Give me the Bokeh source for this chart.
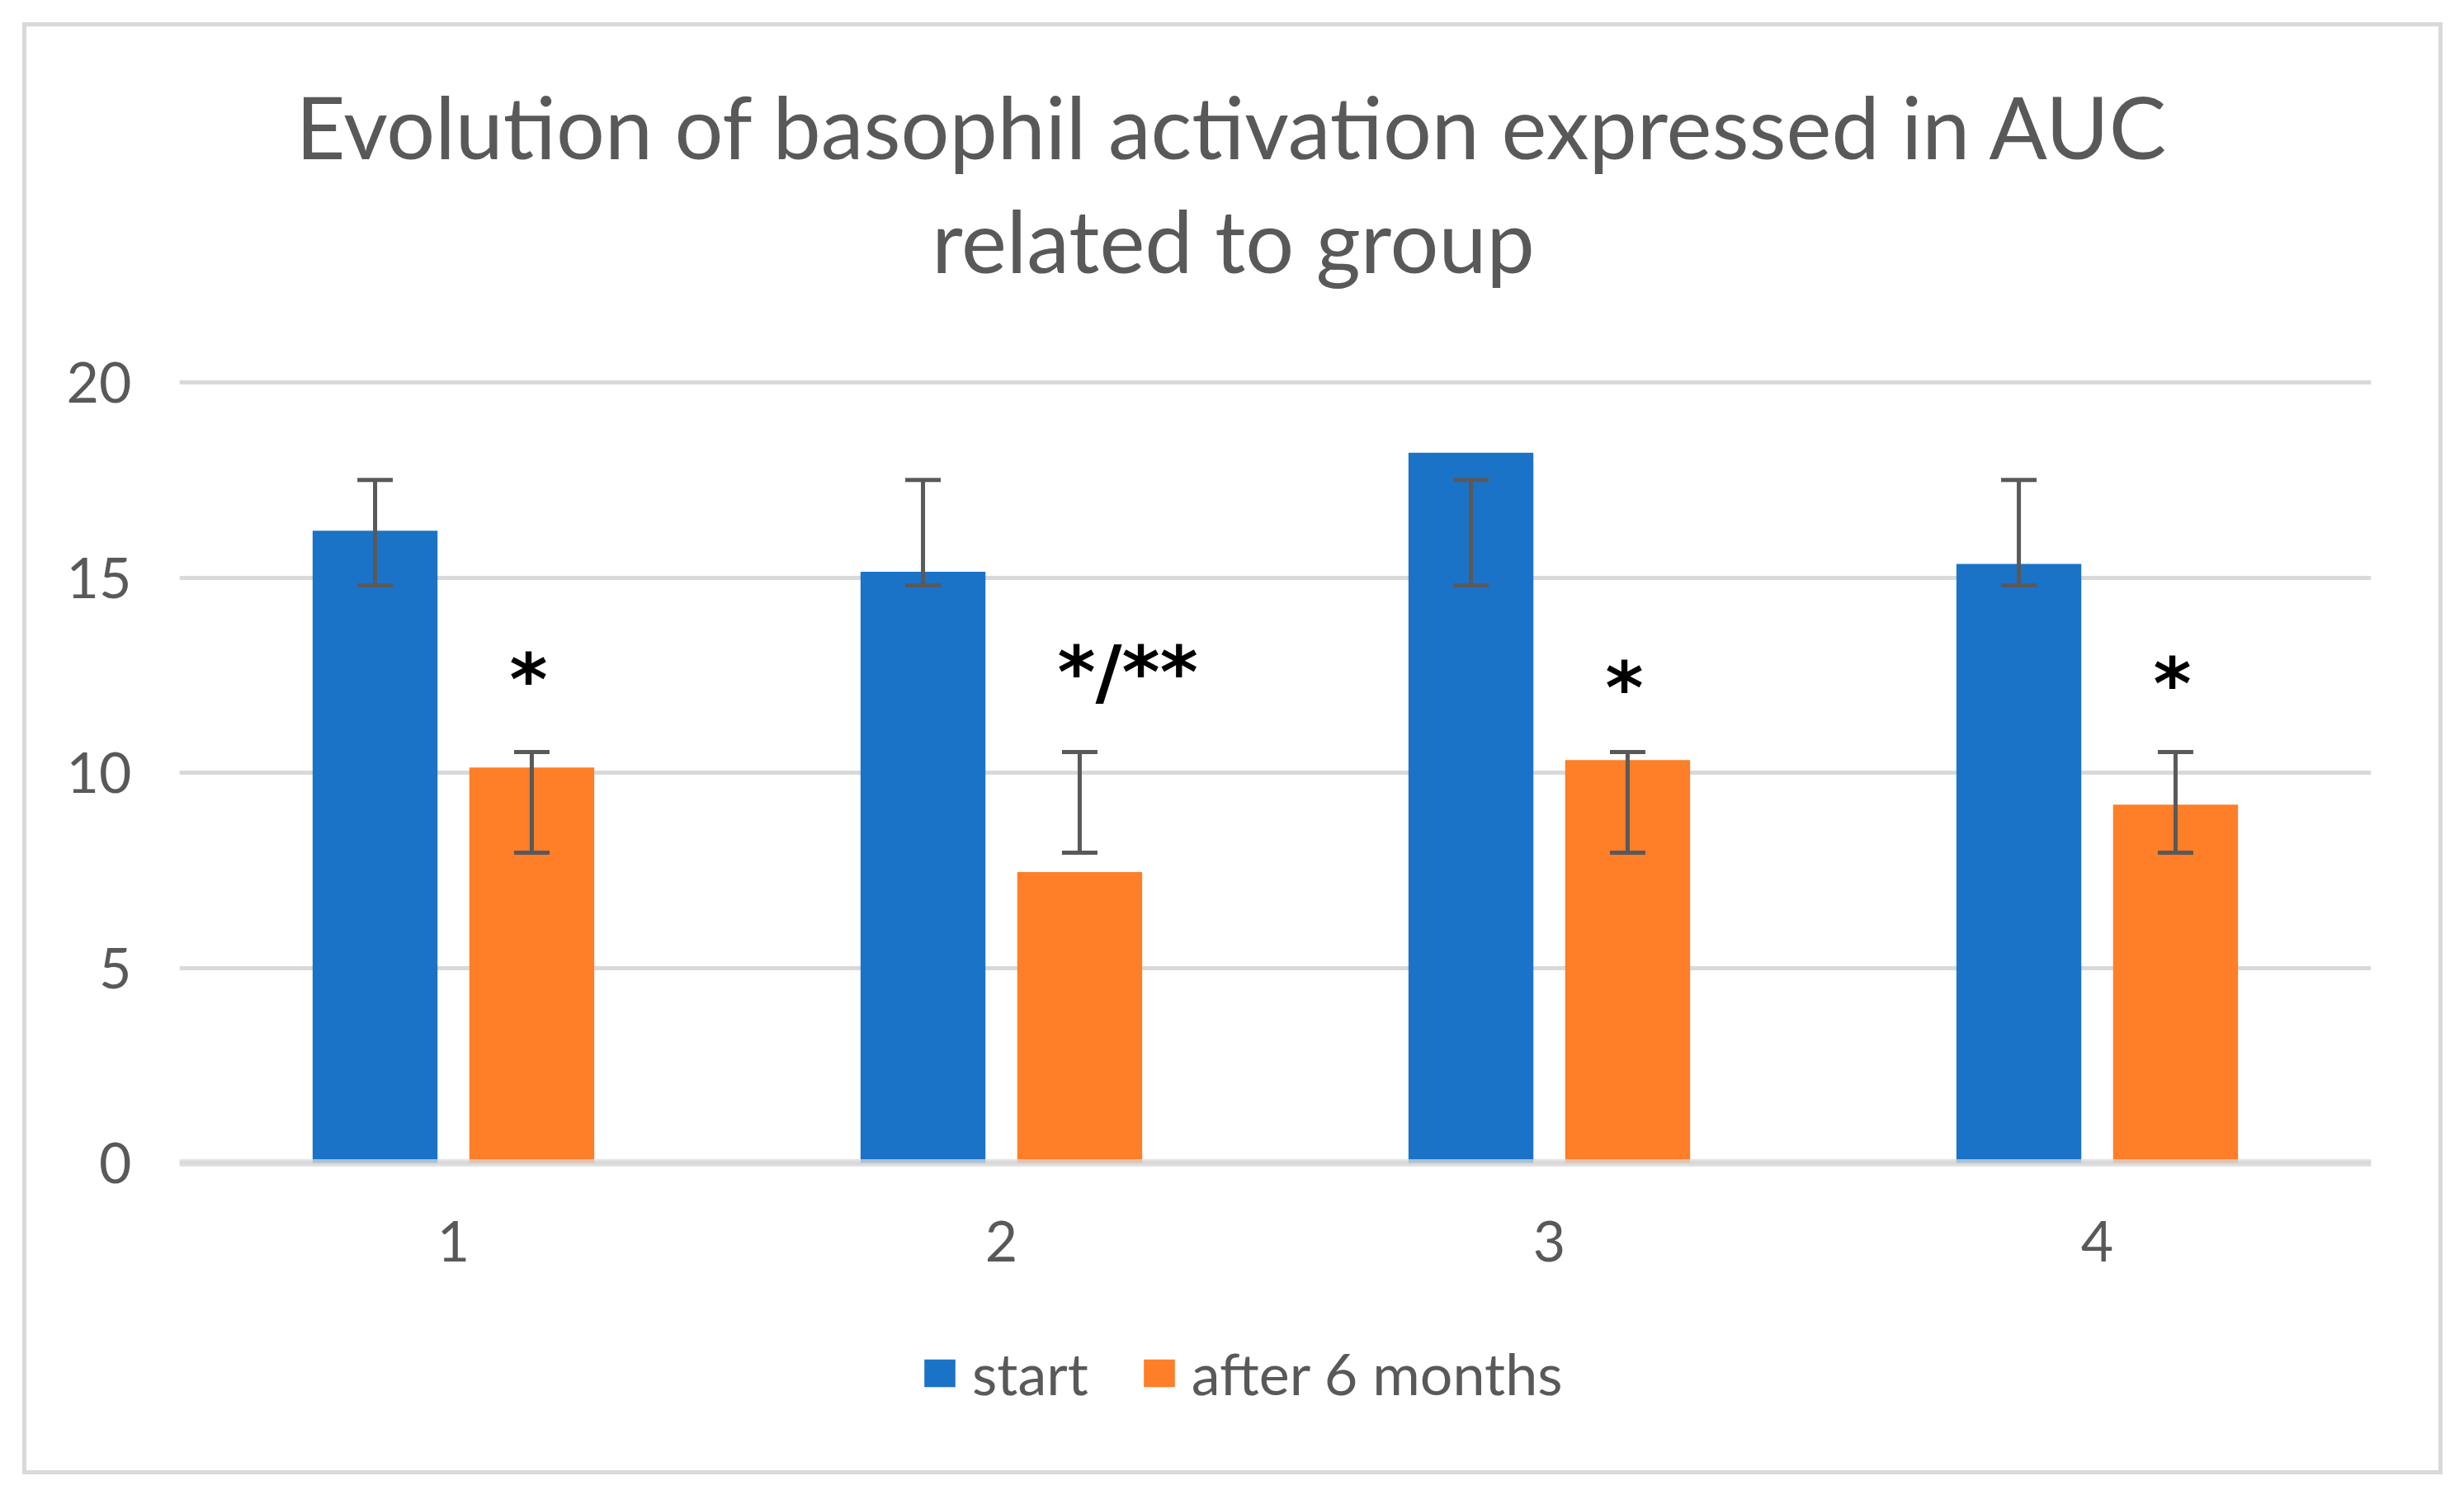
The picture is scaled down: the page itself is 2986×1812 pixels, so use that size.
from bokeh.plotting import figure
from bokeh.models import (ColumnDataSource, FactorRange, Range1d, Whisker, TeeHead,
                          Legend, LegendItem, FixedTicker, Label)
from bokeh.transform import dodge
from bokeh.core.properties import value
from bokeh.embed import file_html
from bokeh.resources import INLINE

# ---- data ----
groups = ["1", "2", "3", "4"]
start_vals = [16.2, 15.15, 18.2, 15.35]
after_vals = [10.13, 7.45, 10.32, 9.18]
start_err_lo = [14.8, 14.8, 14.8, 14.8]
start_err_hi = [17.5, 17.5, 17.5, 17.5]
after_err_lo = [7.95, 7.95, 7.95, 7.95]
after_err_hi = [10.53, 10.53, 10.53, 10.53]
sig_labels = ["*", "*/**", "*", "*"]
sig_y = [12.38, 12.58, 12.18, 12.28]
y_ticks = [0, 5, 10, 15, 20]
series_names = ["start", "after 6 months"]
title_lines = ["Evolution of basophil activation expressed in AUC", "related to group"]

BLUE = "#1b73c8"
ORANGE = "#ff7e28"
GREY_TXT = "#595959"
GRID = "#d9d9d9"
FONT = "Lato"

src = ColumnDataSource(dict(groups=groups, start=start_vals, after=after_vals,
                            s_lo=start_err_lo, s_hi=start_err_hi,
                            a_lo=after_err_lo, a_hi=after_err_hi,
                            sig=sig_labels, sig_y=sig_y))

W, H = 2970, 1796
# chart border drawn as CSS background behind a transparent canvas
bl, bt, br, bb, bw = 27, 27, 2960, 1787, 5
bg = ", ".join([
    f"linear-gradient({GRID},{GRID}) {bl}px {bt}px / {br-bl}px {bw}px no-repeat",
    f"linear-gradient({GRID},{GRID}) {bl}px {bb-bw}px / {br-bl}px {bw}px no-repeat",
    f"linear-gradient({GRID},{GRID}) {bl}px {bt}px / {bw}px {bb-bt}px no-repeat",
    f"linear-gradient({GRID},{GRID}) {br-bw}px {bt}px / {bw}px {bb-bt}px no-repeat",
    "white",
])

# frame spans almost the whole chart; value axis 0..20 occupies px 463..1409
FT, FB = 30, 1776
PX_PER_UNIT = (1409 - 463) / 20.0
y_lo = -(FB - 1409) / PX_PER_UNIT
y_hi = 20 + (463 - FT) / PX_PER_UNIT

p = figure(width=W, height=H, x_range=FactorRange(*groups, range_padding=0),
           y_range=Range1d(y_lo, y_hi), output_backend="svg", toolbar_location=None,
           title=None,
           min_border_left=217, min_border_right=97, min_border_top=FT,
           min_border_bottom=H - FB, styles={"background": bg})
p.outline_line_color = None
p.background_fill_alpha = 0
p.border_fill_alpha = 0

r1 = p.vbar(x=dodge("groups", -0.143, range=p.x_range), top="start", width=0.228,
            source=src, fill_color=BLUE, line_color=None)
r2 = p.vbar(x=dodge("groups", 0.143, range=p.x_range), top="after", width=0.228,
            source=src, fill_color=ORANGE, line_color=None)

for base_off, lo, hi in [(-0.143, "s_lo", "s_hi"), (0.143, "a_lo", "a_hi")]:
    w = Whisker(base=dodge("groups", base_off, range=p.x_range), lower=lo, upper=hi,
                source=src, line_color=GREY_TXT, line_width=5, level="overlay",
                upper_head=TeeHead(size=43, line_color=GREY_TXT, line_width=5),
                lower_head=TeeHead(size=43, line_color=GREY_TXT, line_width=5))
    p.add_layout(w)

p.text(x=dodge("groups", 0.143, range=p.x_range), y="sig_y", text="sig", source=src,
       text_align="left", x_offset=-27, text_baseline="alphabetic",
       text_font=value("DejaVu Sans"), text_font_style="bold",
       text_font_size="88px", text_color="black")

# axes
p.xgrid.grid_line_color = None
p.ygrid.grid_line_color = GRID
p.ygrid.grid_line_width = 5
p.yaxis.ticker = FixedTicker(ticks=y_ticks)
p.ygrid.ticker = FixedTicker(ticks=y_ticks)
p.yaxis.axis_line_color = None
p.yaxis.major_tick_line_color = None
p.yaxis.minor_tick_line_color = None
p.yaxis.major_tick_out = 0
p.yaxis.major_tick_in = 0
p.yaxis.major_label_standoff = 58
for ax in (p.xaxis[0], p.yaxis[0]):
    ax.major_label_text_font = FONT
    ax.major_label_text_font_size = "68px"
    ax.major_label_text_color = GREY_TXT
p.xaxis.fixed_location = 0
p.xaxis.axis_line_color = GRID
p.xaxis.axis_line_width = 9
p.xaxis.axis_line_alpha = 0.75
p.xaxis.major_tick_line_color = None
p.xaxis.major_tick_out = 0
p.xaxis.major_tick_in = 0
p.xaxis.major_label_standoff = 70

# legend (inside the tall frame, below the category labels)
legend = Legend(items=[LegendItem(label=series_names[0], renderers=[r1]),
                       LegendItem(label=series_names[1], renderers=[r2])],
                orientation="horizontal", location=(898, 70),
                label_text_font=FONT, label_text_font_size="70px",
                label_text_color=GREY_TXT, glyph_width=47, glyph_height=42,
                label_standoff=16, spacing=62, padding=0, margin=0,
                border_line_color=None, background_fill_alpha=0)
p.add_layout(legend)

# title: two centred lines
TITLE_X = 2.0 - 51 / 664.0
for txt, base_px in zip(title_lines, [152, 290]):
    p.add_layout(Label(x=TITLE_X, y=(1409 - base_px) / PX_PER_UNIT, text=txt,
                       text_align="center", text_baseline="alphabetic",
                       text_font=FONT, text_font_size="104px",
                       text_color=GREY_TXT))

open("out.html", "w").write(file_html(p, INLINE))
